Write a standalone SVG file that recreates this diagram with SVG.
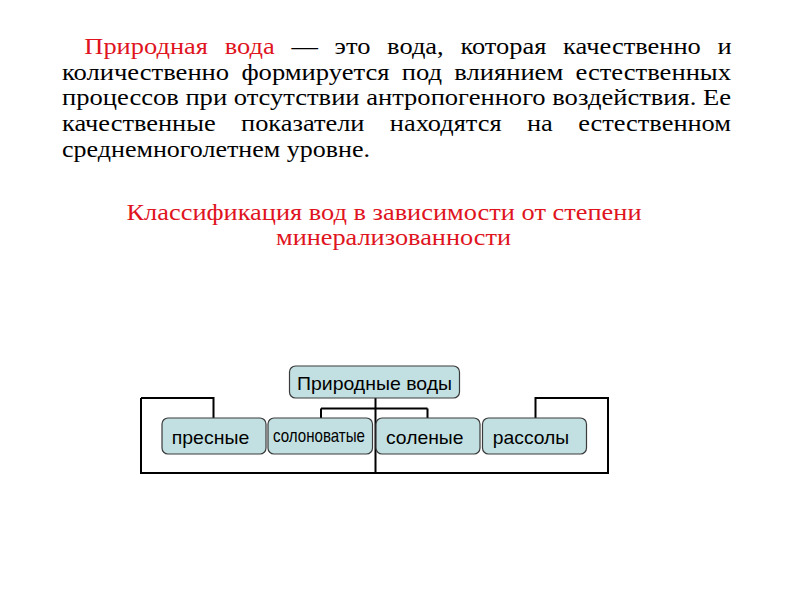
<svg xmlns="http://www.w3.org/2000/svg" width="800" height="600" viewBox="0 0 800 600">
<style>
.p{font-family:"Liberation Serif","Times New Roman",serif;font-size:24px;fill:#000}
.red{fill:#e0141e}
.t{font-family:"Liberation Serif","Times New Roman",serif;font-size:23px;fill:#e0141e}
.box{fill:#c2e0e2;stroke:#3a3a3a;stroke-width:1.2}
.lbl{font-family:"Liberation Sans",Arial,sans-serif;font-size:19px;fill:#000;text-anchor:middle}
.ln{fill:none;stroke:#000;stroke-width:2}
</style>
<rect width="800" height="600" fill="#fff"/>
<g id="paragraph">
<text class="p" x="84.3" y="53.5" word-spacing="9.2" textLength="647.4" lengthAdjust="spacingAndGlyphs"><tspan class="red">Природная вода</tspan> — это вода, которая качественно и</text>
<text class="p" x="62" y="79.5" word-spacing="5.1" textLength="669" lengthAdjust="spacingAndGlyphs">количественно формируется под влиянием естественных</text>
<text class="p" x="62" y="105" textLength="669" lengthAdjust="spacingAndGlyphs">процессов при отсутствии антропогенного воздействия. Ее</text>
<text class="p" x="62" y="130.8" word-spacing="17.1" textLength="669" lengthAdjust="spacingAndGlyphs">качественные показатели находятся на естественном</text>
<text class="p" x="62" y="156.5" textLength="308" lengthAdjust="spacingAndGlyphs">среднемноголетнем уровне.</text>
</g>
<g id="title">
<text class="t" x="126.5" y="219.5" textLength="515" lengthAdjust="spacingAndGlyphs">Классификация вод в зависимости от степени</text>
<text class="t" x="276" y="244.5" textLength="235" lengthAdjust="spacingAndGlyphs">минерализованности</text>
</g>
<g id="connectors">
<path class="ln" d="M375.5 398 V473 M141 398 H213.5 V418 M141 398 V473 H608 V398 H535.5 V418 M321 408.5 H427.5 M321 408.5 V418 M427.5 408.5 V418"/>
</g>
<g id="node-root">
<rect class="box" x="289.5" y="366" width="170" height="32" rx="6"/>
<text class="lbl" x="374.5" y="389.5" font-size="17" textLength="155" lengthAdjust="spacingAndGlyphs">Природные воды</text>
</g>
<g id="node-fresh">
<rect class="box" x="162" y="418" width="104" height="36" rx="6"/>
<text class="lbl" x="210.5" y="443.5" textLength="77.5" lengthAdjust="spacingAndGlyphs">пресные</text>
</g>
<g id="node-brackish">
<rect class="box" x="268" y="418" width="104.5" height="36" rx="6"/>
<text class="lbl" x="319" y="442" font-size="14.5" textLength="92" lengthAdjust="spacingAndGlyphs">солоноватые</text>
</g>
<g id="node-salt">
<rect class="box" x="376" y="418" width="104" height="36" rx="6"/>
<text class="lbl" x="424.7" y="443.5" textLength="77.5" lengthAdjust="spacingAndGlyphs">соленые</text>
</g>
<g id="node-brine">
<rect class="box" x="482.5" y="418" width="104" height="36" rx="6"/>
<text class="lbl" x="531" y="443.5" textLength="76.5" lengthAdjust="spacingAndGlyphs">рассолы</text>
</g>
</svg>
